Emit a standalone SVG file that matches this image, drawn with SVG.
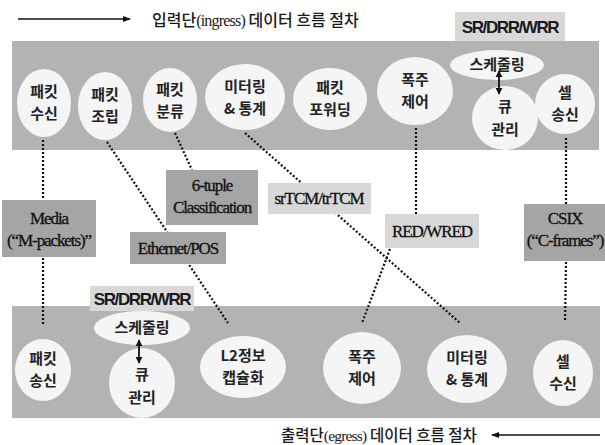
<svg xmlns="http://www.w3.org/2000/svg" width="605" height="445" viewBox="0 0 605 445">
<defs>
<marker id="ah" viewBox="0 0 10 10" refX="9" refY="5" markerWidth="5" markerHeight="5" orient="auto-start-reverse" markerUnits="strokeWidth">
<path d="M0,1 L10,5 L0,9 Z" fill="#111"/>
</marker>
<marker id="ahs" viewBox="0 0 10 10" refX="9" refY="5" markerWidth="4" markerHeight="4" orient="auto-start-reverse" markerUnits="strokeWidth">
<path d="M0,0 L10,5 L0,10 Z" fill="#111"/>
</marker>
<style>
.band{fill:#b3b3b3}
.node{fill:#f5f5f5}
.kr{font-family:"Noto Sans CJK KR","Noto Sans",sans-serif;font-size:15px;font-weight:700;fill:#222;text-anchor:middle}
.lbl{font-family:"Liberation Serif","Noto Sans CJK KR",serif;font-size:17px;fill:#111;stroke:#111;stroke-width:0.3;text-anchor:middle;letter-spacing:-1.1px}
.dark{fill:#a5a5a5}
.light{fill:#d8d8d8}
.sr{font-family:"Liberation Sans","Noto Sans",sans-serif;font-size:17px;font-weight:bold;fill:#1a1a1a;text-anchor:middle;letter-spacing:-1.4px}
.dot{stroke:#111;stroke-width:2.2;stroke-dasharray:2 2;fill:none}
.dbl{stroke:#111;stroke-width:1.8;fill:none}
.title{font-family:"Noto Sans CJK KR","Noto Sans",sans-serif;font-size:16px;font-weight:500;fill:#1a1a1a}
.ser{font-family:"Liberation Serif",serif;letter-spacing:-0.8px}
</style>
</defs>
<rect width="605" height="445" fill="#ffffff"/>

<!-- titles -->
<g id="title-ingress">
<line x1="18" y1="19" x2="130" y2="19" stroke="#111" stroke-width="1.6" marker-end="url(#ah)"/>
<text class="title" x="152" y="26">입력단<tspan class="ser">(ingress)</tspan> 데이터 흐름 절차</text>
</g>
<g id="title-egress">
<line x1="600" y1="435" x2="492" y2="435" stroke="#111" stroke-width="1.6" marker-end="url(#ah)"/>
<text class="title" x="281" y="441" style="font-size:15.5px">출력단<tspan class="ser">(egress)</tspan> 데이터 흐름 절차</text>
</g>

<!-- bands -->
<rect id="band-top" class="band" x="12" y="41" width="587" height="109"/>
<rect id="band-bottom" class="band" x="12" y="306" width="588" height="112"/>

<!-- SR/DRR/WRR labels -->
<g id="sr-top"><rect class="light" x="455" y="12" width="110" height="29"/><text class="sr" x="510" y="33">SR/DRR/WRR</text></g>
<g id="sr-bottom"><rect class="light" x="90" y="286" width="104" height="25"/><text class="sr" x="142" y="305">SR/DRR/WRR</text></g>

<!-- connectors -->
<g id="connectors">
<line class="dot" x1="43" y1="140" x2="43" y2="200"/>
<line class="dot" x1="43" y1="258" x2="43" y2="324"/>
<line class="dot" x1="107" y1="142" x2="228" y2="323"/>
<line class="dot" x1="175" y1="133" x2="192" y2="170"/>
<line class="dot" x1="245" y1="133" x2="460" y2="323"/>
<line class="dot" x1="416" y1="128" x2="416" y2="214"/>
<line class="dot" x1="390" y1="249" x2="362" y2="323"/>
<line class="dot" x1="566" y1="138" x2="566" y2="205"/>
<line class="dot" x1="566" y1="262" x2="565" y2="322"/>
</g>

<!-- middle labels -->
<g id="lbl-media"><rect class="dark" x="2" y="200" width="94" height="57"/><text class="lbl" x="49" y="224">Media</text><text class="lbl" x="49" y="246">(“M-packets)”</text></g>
<g id="lbl-6tuple"><rect class="dark" x="166" y="170" width="92" height="55"/><text class="lbl" x="212" y="191">6-tuple</text><text class="lbl" x="212" y="213">Classification</text></g>
<g id="lbl-srtcm"><rect class="light" x="268" y="183" width="103" height="31"/><text class="lbl" x="319" y="204">srTCM/trTCM</text></g>
<g id="lbl-ethernet"><rect class="dark" x="130" y="232" width="96" height="32"/><text class="lbl" x="178" y="254">Ethernet/POS</text></g>
<g id="lbl-red"><rect class="light" x="385" y="214" width="94" height="34"/><text class="lbl" x="432" y="237">RED/WRED</text></g>
<g id="lbl-csix"><rect class="dark" x="524" y="204" width="81" height="57"/><text class="lbl" x="565" y="224">CSIX</text><text class="lbl" x="565" y="246">(“C-frames”)</text></g>

<!-- top nodes -->
<g id="n-rx"><ellipse class="node" cx="44" cy="103" rx="27" ry="34"/><text class="kr" x="44" y="97">패킷</text><text class="kr" x="44" y="119">수신</text></g>
<g id="n-asm"><ellipse class="node" cx="105" cy="106" rx="27" ry="34"/><text class="kr" x="105" y="100">패킷</text><text class="kr" x="105" y="122">조립</text></g>
<g id="n-cls"><ellipse class="node" cx="170" cy="100" rx="27" ry="32"/><text class="kr" x="170" y="95">패킷</text><text class="kr" x="170" y="117">분류</text></g>
<g id="n-meter"><ellipse class="node" cx="245" cy="97" rx="40" ry="33"/><text class="kr" x="245" y="92">미터링</text><text class="kr" x="245" y="114">&amp; 통계</text></g>
<g id="n-fwd"><ellipse class="node" cx="330" cy="99" rx="37" ry="31"/><text class="kr" x="330" y="93">패킷</text><text class="kr" x="330" y="115">포워딩</text></g>
<g id="n-cong"><ellipse class="node" cx="415" cy="91" rx="38" ry="34"/><text class="kr" x="415" y="85">폭주</text><text class="kr" x="415" y="107">제어</text></g>
<g id="n-sched"><ellipse class="node" cx="497" cy="65" rx="47" ry="15"/><text class="kr" x="497" y="70">스케줄링</text></g>
<g id="n-queue"><ellipse class="node" cx="505" cy="118" rx="33" ry="32"/><text class="kr" x="505" y="112">큐</text><text class="kr" x="505" y="135">관리</text></g>
<g id="n-celltx"><ellipse class="node" cx="565" cy="104" rx="30" ry="30"/><text class="kr" x="565" y="98">셀</text><text class="kr" x="565" y="120">송신</text></g>

<!-- bottom nodes -->
<g id="n-ptx"><ellipse class="node" cx="43" cy="370" rx="28" ry="31"/><text class="kr" x="43" y="364">패킷</text><text class="kr" x="43" y="386">송신</text></g>
<g id="n-sched2"><ellipse class="node" cx="142" cy="328" rx="48" ry="17"/><text class="kr" x="142" y="333">스케줄링</text></g>
<g id="n-queue2"><ellipse class="node" cx="142" cy="383" rx="33" ry="35"/><text class="kr" x="142" y="380">큐</text><text class="kr" x="142" y="403">관리</text></g>
<g id="n-l2"><ellipse class="node" cx="243" cy="367" rx="43" ry="31"/><text class="kr" x="243" y="361">L2정보</text><text class="kr" x="243" y="383">캡슐화</text></g>
<g id="n-cong2"><ellipse class="node" cx="362" cy="368" rx="39" ry="36"/><text class="kr" x="362" y="362">폭주</text><text class="kr" x="362" y="384">제어</text></g>
<g id="n-meter2"><ellipse class="node" cx="467" cy="369" rx="40" ry="34"/><text class="kr" x="467" y="363">미터링</text><text class="kr" x="467" y="385">&amp; 통계</text></g>
<g id="n-cellrx"><ellipse class="node" cx="563" cy="373" rx="30" ry="33"/><text class="kr" x="563" y="367">셀</text><text class="kr" x="563" y="389">수신</text></g>

<!-- scheduler/queue double arrows -->
<g id="connectors-sched">
<line class="dbl" x1="499" y1="71" x2="499" y2="94" marker-start="url(#ahs)" marker-end="url(#ahs)"/>
<line class="dbl" x1="139" y1="340" x2="139" y2="363" marker-start="url(#ahs)" marker-end="url(#ahs)"/>
</g>
</svg>
